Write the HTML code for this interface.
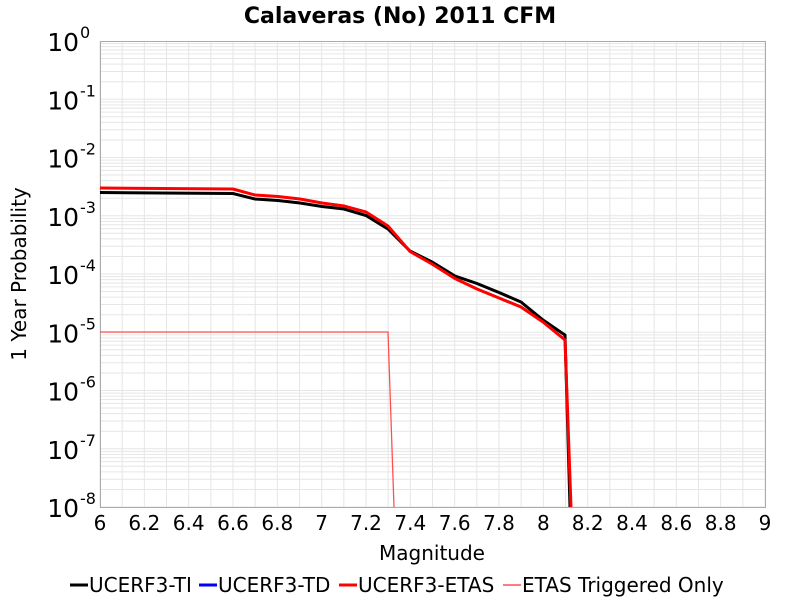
<!DOCTYPE html><html><head><style>body{margin:0;background:#fff}svg{display:block;font-family:"DejaVu Sans","Liberation Sans",sans-serif}</style></head><body>
<svg width="800" height="600" xmlns="http://www.w3.org/2000/svg">
<rect width="800" height="600" fill="#fff"/>
<g id="grid" stroke="#e6e6e6" stroke-width="1"></g>
<rect x="100.5" y="41.5" width="665" height="466" fill="none" stroke="#aaa"/>
<text x="400" y="23" font-size="22" font-weight="bold" text-anchor="middle">Calaveras (No) 2011 CFM</text>
<g id="lab" font-size="20"></g>
<text x="432" y="560" font-size="20" text-anchor="middle">Magnitude</text>
<text transform="translate(26,274) rotate(-90)" font-size="20" text-anchor="middle">1 Year Probability</text>
<polyline fill="none" stroke="#ff5050" stroke-width="1.3" points="100,332 388,332 394,507"/>
<polyline fill="none" stroke="#000" stroke-width="3" points="100,192.5 233,193.5 255,199 278,200.5 300,203 322,206.5 344,209 366,215.5 388,229 410,251 432,262 455,276 477,283.5 499,292.5 521,302 543,320 565,335 570,507"/>
<polyline fill="none" stroke="#f00" stroke-width="3" points="100,188 233,189 255,195 278,196.5 300,199 322,203 344,206 366,212 388,226 410,251.5 432,264 455,278.5 477,289 499,298 521,307 543,322 565,340 571,507"/>
<g font-size="20">
<line x1="70" y1="585" x2="88" y2="585" stroke="#000" stroke-width="3"/><text x="89" y="592">UCERF3-TI</text>
<line x1="199" y1="585" x2="217" y2="585" stroke="#00f" stroke-width="3"/><text x="218" y="592">UCERF3-TD</text>
<line x1="339" y1="585" x2="357" y2="585" stroke="#f00" stroke-width="3"/><text x="358" y="592">UCERF3-ETAS</text>
<line x1="503" y1="585" x2="521" y2="585" stroke="#ff5050" stroke-width="1.5"/><text x="522" y="592">ETAS Triggered Only</text>
</g>
</svg>
<script>
var ns="http://www.w3.org/2000/svg",g=document.getElementById('grid'),lab=document.getElementById('lab');
function L(x1,y1,x2,y2){var l=document.createElementNS(ns,'line');l.setAttribute('x1',x1);l.setAttribute('y1',y1);l.setAttribute('x2',x2);l.setAttribute('y2',y2);g.appendChild(l);}
function T(x,y,s,a,sz){var t=document.createElementNS(ns,'text');t.setAttribute('x',x);t.setAttribute('y',y);t.setAttribute('text-anchor',a);if(sz)t.setAttribute('font-size',sz);t.textContent=s;lab.appendChild(t);return t;}
var dec=466/8;
for(var d=0;d<8;d++){for(var k=1;k<10;k++){var y=507-d*dec-Math.log10(k)*dec;L(100,y,765,y);}}
for(var i=0;i<=30;i++){var x=100+i*665/30;L(x,41,x,507);}
for(var i=0;i<=15;i++){var v=6+i*0.2;var x=100+i*665/15;T(x,530,(Math.round(v*10)/10).toString(),'middle');}
for(var e=0;e<=8;e++){var y=41+e*dec;var t=T(79,y+10,'10','end',25);
var s=document.createElementNS(ns,'text');s.setAttribute('x',80);s.setAttribute('y',y-3);s.setAttribute('font-size',16);s.textContent=e==0?'0':'-'+e;lab.appendChild(s);}
</script>
</body></html>
